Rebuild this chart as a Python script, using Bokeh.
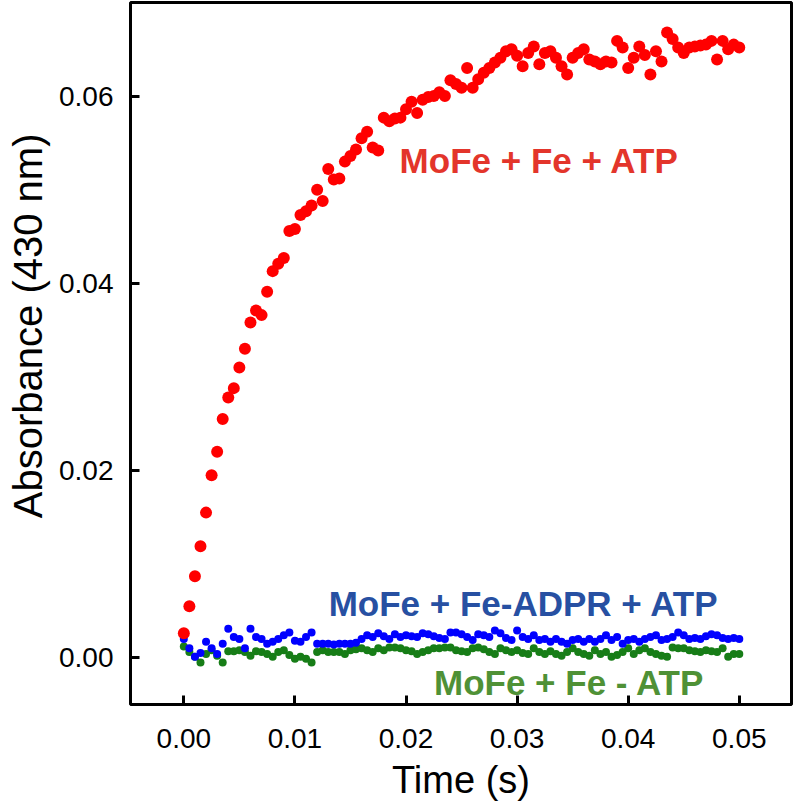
from bokeh.plotting import figure
from bokeh.models import FixedTicker, NumeralTickFormatter, Range1d, Title
from bokeh.core.properties import value
from bokeh.embed import file_html
from bokeh.resources import INLINE

time_s = [0.0000, 0.0005, 0.0010, 0.0015, 0.0020, 0.0025, 0.0030, 0.0035, 0.0040, 0.0045,
          0.0050, 0.0055, 0.0060, 0.0065, 0.0070, 0.0075, 0.0080, 0.0085, 0.0090, 0.0095,
          0.0100, 0.0105, 0.0110, 0.0115, 0.0120, 0.0125, 0.0130, 0.0135, 0.0140, 0.0145,
          0.0150, 0.0155, 0.0160, 0.0165, 0.0170, 0.0175, 0.0180, 0.0185, 0.0190, 0.0195,
          0.0200, 0.0205, 0.0210, 0.0215, 0.0220, 0.0225, 0.0230, 0.0235, 0.0240, 0.0245,
          0.0250, 0.0255, 0.0260, 0.0265, 0.0270, 0.0275, 0.0280, 0.0285, 0.0290, 0.0295,
          0.0300, 0.0305, 0.0310, 0.0315, 0.0320, 0.0325, 0.0330, 0.0335, 0.0340, 0.0345,
          0.0350, 0.0355, 0.0360, 0.0365, 0.0370, 0.0375, 0.0380, 0.0385, 0.0390, 0.0395,
          0.0400, 0.0405, 0.0410, 0.0415, 0.0420, 0.0425, 0.0430, 0.0435, 0.0440, 0.0445,
          0.0450, 0.0455, 0.0460, 0.0465, 0.0470, 0.0475, 0.0480, 0.0485, 0.0490, 0.0495,
          0.0500]

abs_mofe_fe_atp = [0.0026, 0.0055, 0.0087, 0.0119, 0.0155, 0.0195, 0.0220, 0.0255, 0.0278, 0.0288,
                   0.0310, 0.0330, 0.0358, 0.0371, 0.0366, 0.0391, 0.0413, 0.0421, 0.0427, 0.0456,
                   0.0458, 0.0473, 0.0477, 0.0483, 0.0500, 0.0488, 0.0522, 0.0511, 0.0512, 0.0530,
                   0.0536, 0.0543, 0.0555, 0.0562, 0.0545, 0.0542, 0.0577, 0.0573, 0.0576, 0.0577,
                   0.0586, 0.0594, 0.0582, 0.0596, 0.0599, 0.0600, 0.0604, 0.0600, 0.0617, 0.0613,
                   0.0609, 0.0630, 0.0609, 0.0618, 0.0625, 0.0630, 0.0636, 0.0641, 0.0648, 0.0650,
                   0.0643, 0.0632, 0.0646, 0.0653, 0.0634, 0.0646, 0.0648, 0.0641, 0.0632, 0.0623,
                   0.0641, 0.0646, 0.0650, 0.0639, 0.0637, 0.0634, 0.0637, 0.0636, 0.0659, 0.0652,
                   0.0630, 0.0641, 0.0653, 0.0644, 0.0623, 0.0648, 0.0637, 0.0668, 0.0661, 0.0652,
                   0.0646, 0.0652, 0.0653, 0.0654, 0.0655, 0.0659, 0.0639, 0.0659, 0.0650, 0.0655,
                   0.0652]

abs_fe_adpr = [0.0020, 0.0010, 0.0001, 0.0005, 0.0017, 0.0010, 0.0004, 0.0015, 0.0031, 0.0022,
               0.0020, 0.0010, 0.0031, 0.0022, 0.0020, 0.0015, 0.0017, 0.0020, 0.0024, 0.0027,
               0.0018, 0.0017, 0.0022, 0.0027, 0.0015, 0.0015, 0.0015, 0.0014, 0.0015, 0.0015,
               0.0015, 0.0016, 0.0020, 0.0024, 0.0022, 0.0026, 0.0023, 0.0020, 0.0025, 0.0022,
               0.0024, 0.0023, 0.0022, 0.0026, 0.0025, 0.0023, 0.0021, 0.0020, 0.0027, 0.0027,
               0.0025, 0.0022, 0.0019, 0.0025, 0.0024, 0.0022, 0.0029, 0.0026, 0.0021, 0.0019,
               0.0029, 0.0022, 0.0020, 0.0024, 0.0019, 0.0020, 0.0017, 0.0020, 0.0017, 0.0015,
               0.0019, 0.0020, 0.0017, 0.0020, 0.0017, 0.0020, 0.0024, 0.0019, 0.0022, 0.0015,
               0.0019, 0.0020, 0.0017, 0.0020, 0.0022, 0.0024, 0.0019, 0.0020, 0.0022, 0.0027,
               0.0024, 0.0020, 0.0021, 0.0020, 0.0023, 0.0025, 0.0024, 0.0021, 0.0020, 0.0021,
               0.0020]

abs_no_atp = [0.0012, 0.0006, 0.0001, -0.0005, 0.0004, 0.0008, 0.0002, -0.0005, 0.0007, 0.0007,
              0.0008, 0.0006, 0.0002, 0.0007, 0.0006, 0.0004, 0.0001, 0.0006, 0.0008, 0.0003,
              -0.0001, 0.0001, -0.0001, -0.0005, 0.0006, 0.0008, 0.0006, 0.0006, 0.0006, 0.0004,
              0.0008, 0.0009, 0.0010, 0.0008, 0.0006, 0.0010, 0.0008, 0.0011, 0.0011, 0.0010,
              0.0008, 0.0007, 0.0004, 0.0006, 0.0008, 0.0010, 0.0010, 0.0011, 0.0011, 0.0008,
              0.0007, 0.0006, 0.0010, 0.0011, 0.0009, 0.0006, 0.0004, 0.0010, 0.0008, 0.0006,
              0.0008, 0.0005, 0.0004, 0.0010, 0.0006, 0.0004, 0.0007, 0.0004, 0.0002, 0.0006,
              0.0010, 0.0006, 0.0004, 0.0002, 0.0008, 0.0004, 0.0006, 0.0001, 0.0003, 0.0006,
              0.0010, 0.0004, 0.0008, 0.0010, 0.0006, 0.0004, 0.0002, 0.0001, 0.0011, 0.0010,
              0.0010, 0.0008, 0.0007, 0.0006, 0.0008, 0.0007, 0.0006, 0.0010, 0.0001, 0.0004,
              0.0004]

x_ticks = [0.00, 0.01, 0.02, 0.03, 0.04, 0.05]
y_ticks = [0.00, 0.02, 0.04, 0.06]

labels = ["MoFe + Fe + ATP", "MoFe + Fe-ADPR + ATP", "MoFe + Fe - ATP"]
label_x = [0.0320, 0.0306, 0.0347]
label_y = [0.0531, 0.0058, -0.0026]
label_colors = ["#e3352b", "#2750a2", "#4f9136"]

FONT = "Liberation Sans"

p = figure(frame_width=661, frame_height=702, output_backend="svg", toolbar_location=None,
           x_range=Range1d(-0.0048, 0.0547), y_range=Range1d(-0.0050, 0.0700),
           min_border_left=129, min_border_right=4, min_border_top=2, min_border_bottom=90)
p.background_fill_color = "white"
p.border_fill_color = "white"
p.outline_line_color = "black"
p.outline_line_width = 3
p.xgrid.visible = False
p.ygrid.visible = False

for ax in (p.xaxis[0], p.yaxis[0]):
    ax.axis_line_color = None
    ax.major_tick_in = 9
    ax.major_tick_out = 0
    ax.major_tick_line_width = 3
    ax.minor_tick_line_color = None
    ax.major_label_text_font = FONT
    ax.major_label_text_font_size = "28px"
    ax.major_label_text_color = "black"
    ax.axis_label_text_font = FONT
    ax.axis_label_text_font_style = "normal"
    ax.axis_label_text_color = "black"
    ax.formatter = NumeralTickFormatter(format="0.00")

p.xaxis.ticker = FixedTicker(ticks=x_ticks)
p.yaxis.ticker = FixedTicker(ticks=y_ticks)
p.xaxis.axis_label = "Time (s)"
p.xaxis.axis_label_text_font_size = "38px"
p.xaxis.major_label_standoff = 24
p.yaxis.major_label_standoff = 17
p.xaxis.axis_label_standoff = 8

ytitle = Title(text="Absorbance (430 nm)", align="right", vertical_align="top",
               offset=131, standoff=10,
               text_font=FONT, text_font_size="40px", text_font_style="normal",
               text_color="black")
p.add_layout(ytitle, "left")

p.scatter(time_s, abs_no_atp, size=8, color="#177d17", line_color=None)
p.scatter(time_s, abs_fe_adpr, size=8, color="#0000ff", line_color=None)
p.scatter(time_s, abs_mofe_fe_atp, size=12, color="#ff0000", line_color=None)

p.text(x=label_x, y=label_y, text=labels, text_color=label_colors,
       text_font=value(FONT), text_font_style="bold", text_font_size="35px",
       text_align="center", text_baseline="middle")

open("out.html", "w").write(file_html(p, INLINE))
